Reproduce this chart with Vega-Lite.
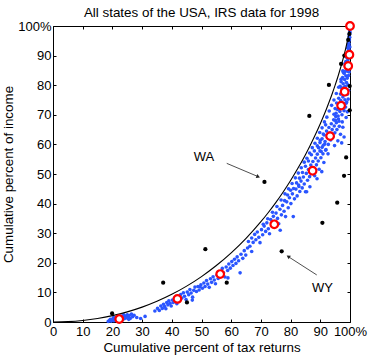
{
  "$schema": "https://vega.github.io/schema/vega-lite/v6.json",
  "autosize": {"type": "none"},
  "padding": {"left": 53, "top": 26, "right": 20, "bottom": 33},
  "width": 297,
  "height": 296,
  "background": "white",
  "title": {"text": "All states of the USA, IRS data for 1998", "font": "Liberation Sans", "fontSize": 13.4, "fontWeight": "normal", "color": "black", "anchor": "middle", "frame": "group", "offset": 0, "dy": 2},
  "config": {
    "view": {"stroke": "black", "strokeWidth": 1},
    "axis": {"labelFont": "Liberation Sans", "titleFont": "Liberation Sans", "labelColor": "black", "titleColor": "black", "titleFontWeight": "normal", "labelFontSize": 13, "titleFontSize": 13.4, "tickColor": "black", "tickSize": -3, "domain": false, "grid": false, "labelFlush": false, "labelOverlap": false}
  },
  "datasets": {
    "curve": [
      {"x":0,"y":0},{"x":5,"y":0.13},{"x":10,"y":0.52},{"x":15,"y":1.19},{"x":20,"y":2.15},{"x":25,"y":3.42},{"x":30,"y":5.03},{"x":35,"y":7.0},{"x":40,"y":9.35},{"x":45,"y":12.12},{"x":50,"y":15.34},{"x":55,"y":19.07},{"x":60,"y":23.35},{"x":65,"y":28.26},{"x":70,"y":33.88},{"x":72.5,"y":37.0},{"x":75,"y":40.34},{"x":77.5,"y":43.94},{"x":80,"y":47.81},{"x":82.5,"y":52.0},{"x":85,"y":56.54},{"x":86.5,"y":59.47},{"x":88,"y":62.56},{"x":90,"y":66.97},{"x":91,"y":69.33},{"x":92,"y":71.79},{"x":93,"y":74.39},{"x":94,"y":77.12},{"x":95,"y":80.02},{"x":96,"y":83.12},{"x":97,"y":86.48},{"x":98,"y":90.18},{"x":98.5,"y":92.2},{"x":99,"y":94.39},{"x":99.5,"y":96.85},{"x":99.75,"y":98.25},{"x":99.9,"y":99.21},{"x":100,"y":100}
    ],
    "blue": [
      {"x":18.6,"y":0.2},{"x":19.0,"y":0.5},{"x":19.3,"y":0.9},{"x":19.6,"y":0.3},{"x":20.0,"y":0.7},{"x":20.2,"y":1.1},{"x":20.5,"y":0.4},{"x":20.8,"y":0.9},{"x":21.0,"y":1.4},{"x":21.3,"y":0.6},{"x":21.6,"y":1.2},{"x":21.9,"y":0.3},{"x":22.1,"y":1.6},{"x":22.5,"y":0.8},{"x":22.8,"y":1.3},{"x":23.0,"y":1.9},{"x":23.3,"y":0.7},{"x":23.6,"y":1.5},{"x":24.0,"y":1.1},{"x":24.3,"y":2.0},{"x":24.6,"y":1.4},{"x":25.0,"y":2.4},{"x":25.3,"y":1.6},{"x":25.7,"y":2.2},{"x":26.0,"y":1.2},{"x":26.4,"y":2.7},{"x":26.8,"y":1.8},{"x":27.3,"y":2.3},{"x":28.2,"y":1.5},{"x":29.5,"y":1.2},{"x":31.0,"y":1.9},{"x":20.4,"y":1.5},{"x":23.8,"y":2.4},{"x":25.5,"y":0.9},
      {"x":34.3,"y":3.7},{"x":35.2,"y":4.6},{"x":35.8,"y":3.9},{"x":36.3,"y":5.4},{"x":36.8,"y":4.6},{"x":37.2,"y":6.0},{"x":37.6,"y":5.2},{"x":38.0,"y":4.5},{"x":38.3,"y":6.6},{"x":38.7,"y":5.8},{"x":39.0,"y":7.2},{"x":39.4,"y":6.3},{"x":39.8,"y":5.4},{"x":40.2,"y":7.4},{"x":40.5,"y":6.6},{"x":40.9,"y":8.1},{"x":41.3,"y":7.0},{"x":41.7,"y":6.2},{"x":42.2,"y":8.6},{"x":42.6,"y":7.5},{"x":43.0,"y":9.3},{"x":43.4,"y":8.1},{"x":43.9,"y":9.9},{"x":44.3,"y":8.7},{"x":44.8,"y":7.6},{"x":45.2,"y":10.1},{"x":45.7,"y":9.2},{"x":46.1,"y":11.0},{"x":46.5,"y":9.8},{"x":47.0,"y":8.4},{"x":47.4,"y":10.7},{"x":47.8,"y":11.8},{"x":48.3,"y":10.3},{"x":48.8,"y":12.0},{"x":49.5,"y":11.9},{"x":46.9,"y":7.4},
      {"x":49.2,"y":10.8},{"x":49.8,"y":12.6},{"x":50.3,"y":11.4},{"x":50.8,"y":13.2},{"x":51.2,"y":12.0},{"x":51.7,"y":14.0},{"x":52.1,"y":12.8},{"x":52.6,"y":11.7},{"x":53.0,"y":14.6},{"x":53.4,"y":13.4},{"x":53.9,"y":15.3},{"x":54.3,"y":14.2},{"x":54.7,"y":12.9},{"x":55.2,"y":15.9},{"x":55.6,"y":14.7},{"x":56.0,"y":17.0},{"x":56.5,"y":15.4},{"x":57.0,"y":18.1},{"x":57.4,"y":16.6},{"x":57.9,"y":15.2},{"x":58.3,"y":18.6},{"x":58.8,"y":17.4},{"x":59.2,"y":19.6},{"x":59.7,"y":18.2},{"x":60.2,"y":20.4},{"x":60.6,"y":19.1},{"x":61.1,"y":21.2},{"x":61.6,"y":19.8},{"x":62.0,"y":22.0},{"x":62.5,"y":20.7},{"x":63.0,"y":16.6},{"x":63.3,"y":22.9},{"x":63.9,"y":21.5},{"x":64.4,"y":24.1},{"x":64.9,"y":22.6},{"x":65.5,"y":25.0},{"x":66.9,"y":23.8},{"x":58.9,"y":14.9},
      {"x":65.8,"y":27.2},{"x":66.3,"y":25.6},{"x":66.9,"y":28.4},{"x":67.4,"y":26.9},{"x":67.9,"y":29.6},{"x":68.3,"y":27.8},{"x":68.8,"y":30.4},{"x":69.3,"y":28.6},{"x":69.7,"y":26.8},{"x":70.2,"y":31.2},{"x":70.6,"y":29.5},{"x":71.1,"y":32.4},{"x":71.6,"y":30.6},{"x":72.0,"y":33.5},{"x":72.5,"y":31.5},{"x":72.9,"y":29.8},{"x":73.3,"y":34.6},{"x":73.8,"y":32.7},{"x":74.2,"y":35.7},{"x":74.7,"y":34.0},{"x":75.1,"y":36.8},{"x":75.6,"y":35.0},{"x":76.0,"y":33.2},{"x":76.4,"y":38.1},{"x":76.9,"y":36.2},{"x":77.3,"y":39.4},{"x":77.8,"y":37.4},{"x":78.3,"y":35.6},{"x":78.7,"y":40.6},{"x":79.2,"y":38.6},{"x":79.6,"y":42.0},{"x":80.1,"y":40.0},{"x":80.9,"y":35.6},{"x":80.6,"y":43.3},{"x":81.3,"y":41.6},{"x":76.5,"y":31.0},
      {"x":81.8,"y":44.9},{"x":82.2,"y":42.6},{"x":82.7,"y":46.3},{"x":83.1,"y":44.1},{"x":83.5,"y":47.6},{"x":83.9,"y":45.3},{"x":84.3,"y":49.0},{"x":84.6,"y":46.6},{"x":85.0,"y":44.0},{"x":85.3,"y":50.2},{"x":85.7,"y":47.9},{"x":86.0,"y":51.5},{"x":86.4,"y":49.1},{"x":86.5,"y":45.7},{"x":86.8,"y":53.0},{"x":87.1,"y":50.3},{"x":87.5,"y":54.2},{"x":87.8,"y":52.0},{"x":88.1,"y":49.4},{"x":88.4,"y":55.4},{"x":88.7,"y":53.1},{"x":89.0,"y":56.7},{"x":89.3,"y":54.4},{"x":89.6,"y":51.6},{"x":89.9,"y":57.8},{"x":90.2,"y":55.5},{"x":90.5,"y":50.8},{"x":90.6,"y":59.0},{"x":90.9,"y":56.8},{"x":91.2,"y":53.9},{"x":91.5,"y":60.1},{"x":91.8,"y":58.0},{"x":85.4,"y":44.0},{"x":88.9,"y":48.4},
      {"x":89.4,"y":58.9},{"x":89.9,"y":60.6},{"x":90.3,"y":57.6},{"x":90.6,"y":61.9},{"x":91.0,"y":59.7},{"x":91.3,"y":63.2},{"x":91.6,"y":61.0},{"x":91.9,"y":58.3},{"x":92.1,"y":64.5},{"x":92.4,"y":62.3},{"x":92.7,"y":60.0},{"x":92.9,"y":65.7},{"x":93.2,"y":63.8},{"x":93.5,"y":61.5},{"x":93.7,"y":67.0},{"x":94.0,"y":65.0},{"x":94.2,"y":62.6},{"x":94.5,"y":68.3},{"x":94.7,"y":66.2},{"x":94.9,"y":63.9},{"x":95.2,"y":69.4},{"x":95.4,"y":67.3},{"x":95.6,"y":65.0},{"x":95.9,"y":61.2},{"x":96.1,"y":68.6},{"x":96.4,"y":66.1},{"x":96.8,"y":63.4},{"x":97.2,"y":60.5},{"x":97.6,"y":65.8},{"x":98.0,"y":62.5},{"x":92.6,"y":56.8},{"x":94.8,"y":59.6},{"x":91.8,"y":66.6},
      {"x":94.6,"y":70.2},{"x":95.0,"y":72.1},{"x":95.3,"y":70.5},{"x":95.5,"y":74.0},{"x":95.8,"y":71.8},{"x":96.0,"y":69.6},{"x":96.2,"y":75.6},{"x":96.4,"y":73.4},{"x":96.6,"y":71.1},{"x":96.8,"y":77.0},{"x":96.9,"y":74.8},{"x":97.1,"y":72.5},{"x":97.3,"y":70.0},{"x":97.5,"y":78.2},{"x":97.6,"y":76.0},{"x":97.8,"y":73.8},{"x":98.0,"y":71.4},{"x":98.1,"y":79.4},{"x":98.3,"y":75.1},{"x":98.5,"y":72.6},{"x":98.7,"y":69.1},{"x":98.9,"y":74.3},{"x":99.1,"y":71.0},{"x":97.4,"y":67.6},{"x":96.3,"y":67.8},{"x":95.1,"y":68.1},
      {"x":96.7,"y":79.6},{"x":97.0,"y":81.2},{"x":97.3,"y":79.0},{"x":97.5,"y":82.6},{"x":97.7,"y":80.5},{"x":97.9,"y":78.1},{"x":98.0,"y":84.0},{"x":98.2,"y":81.9},{"x":98.4,"y":79.6},{"x":98.5,"y":76.9},{"x":98.6,"y":83.2},{"x":98.8,"y":80.9},{"x":98.9,"y":78.4},{"x":99.0,"y":85.0},{"x":99.1,"y":82.4},{"x":99.2,"y":77.0},{"x":99.3,"y":80.1},{"x":99.4,"y":75.3},{"x":98.7,"y":73.9},{"x":99.5,"y":78.3},{"x":97.6,"y":84.9},
      {"x":98.4,"y":86.5},{"x":98.6,"y":88.0},{"x":98.8,"y":86.1},{"x":98.9,"y":89.4},{"x":99.0,"y":87.5},{"x":99.1,"y":84.7},{"x":99.2,"y":90.6},{"x":99.3,"y":88.6},{"x":99.4,"y":85.9},{"x":99.5,"y":83.3},{"x":99.5,"y":91.7},{"x":99.6,"y":89.6},{"x":99.7,"y":87.1},{"x":99.7,"y":84.5},{"x":98.2,"y":84.6},{"x":99.8,"y":92.8},
      {"x":99.3,"y":92.5},{"x":99.4,"y":94.0},{"x":99.5,"y":93.2},{"x":99.6,"y":95.1},{"x":99.7,"y":94.0},{"x":99.7,"y":96.4},{"x":99.8,"y":95.3},{"x":99.8,"y":97.2},{"x":99.9,"y":96.2},{"x":99.9,"y":98.3},{"x":99.9,"y":93.0},{"x":99.6,"y":91.0},{"x":100,"y":97.8},{"x":99.95,"y":99.0},{"x":99.85,"y":91.6},
      {"x":70.8,"y":33.0},{"x":72.3,"y":34.9},{"x":73.9,"y":37.1},{"x":75.4,"y":39.0},{"x":76.8,"y":41.2},{"x":78.1,"y":43.3},{"x":79.3,"y":45.0},{"x":80.5,"y":46.8},{"x":81.6,"y":48.7},{"x":82.6,"y":50.3},{"x":83.6,"y":52.1},{"x":84.6,"y":54.0},{"x":85.5,"y":55.3},{"x":86.4,"y":57.1},{"x":87.3,"y":58.9},{"x":88.2,"y":60.4},{"x":89.0,"y":62.1},{"x":89.8,"y":64.0},{"x":90.6,"y":65.6},{"x":91.4,"y":67.6},{"x":92.2,"y":69.2},{"x":93.0,"y":71.3},{"x":93.8,"y":73.2},{"x":94.6,"y":75.0},{"x":95.4,"y":77.2},{"x":96.2,"y":79.3},{"x":97.0,"y":82.0},{"x":97.7,"y":84.5},{"x":98.3,"y":87.3},{"x":98.9,"y":90.0},{"x":99.3,"y":92.7},
      {"x":81.0,"y":45.1},{"x":82.0,"y":47.0},{"x":83.0,"y":48.6},{"x":84.0,"y":50.5},{"x":85.0,"y":52.6},{"x":86.0,"y":54.4},{"x":87.0,"y":56.5},{"x":88.0,"y":57.8},{"x":89.0,"y":59.5},{"x":90.0,"y":61.4},{"x":91.0,"y":63.5},{"x":78.0,"y":41.0},{"x":79.0,"y":42.9},{"x":80.0,"y":44.5},{"x":82.8,"y":45.8}
    ],
    "black": [
      {"x":99.8,"y":97.3},{"x":99.4,"y":95.3},{"x":98.1,"y":90.0},{"x":97.0,"y":87.2},{"x":92.9,"y":80.1},{"x":99.9,"y":79.7},{"x":86.3,"y":69.6},{"x":99.9,"y":71.5},{"x":98.7,"y":55.6},{"x":98.0,"y":49.4},{"x":95.7,"y":40.3},{"x":90.7,"y":33.5},{"x":71.2,"y":47.3},{"x":77.0,"y":23.9},{"x":51.3,"y":24.6},{"x":37.1,"y":13.3},{"x":58.5,"y":13.3},{"x":45.1,"y":6.6},{"x":19.9,"y":2.9}
    ],
    "red": [
      {"x":22.3,"y":1.0},{"x":41.9,"y":7.8},{"x":56.3,"y":16.2},{"x":74.5,"y":33.0},{"x":87.4,"y":51.1},{"x":93.3,"y":62.8},{"x":97.0,"y":73.1},{"x":98.2,"y":77.8},{"x":99.4,"y":86.5},{"x":99.8,"y":90.3},{"x":100,"y":100}
    ],
    "notes": [
      {"state":"WA","tx":50.8,"ty":55.6,"x":58.5,"y":53.6,"x2":69.1,"y2":49.1},
      {"state":"WY","tx":90.7,"ty":11.4,"x":88.8,"y":15.9,"x2":79.2,"y2":22.1}
    ]
  },
  "resolve": {"axis": {"x": "independent", "y": "independent"}},
  "layer": [
    {
      "data": {"name": "blue"},
      "mark": {"type": "point", "shape": "circle", "filled": true, "color": "#2a55ff", "size": 13, "opacity": 1},
      "encoding": {
        "x": {"field": "x", "type": "quantitative", "scale": {"domain": [0, 100], "nice": false}, "axis": {"orient": "top", "values": [0,10,20,30,40,50,60,70,80,90,100], "labels": false, "title": null}},
        "y": {"field": "y", "type": "quantitative", "scale": {"domain": [0, 100], "nice": false}, "axis": {"orient": "right", "values": [0,10,20,30,40,50,60,70,80,90,100], "labels": false, "title": null}}
      }
    },
    {
      "data": {"name": "curve"},
      "mark": {"type": "line", "color": "black", "strokeWidth": 1.1, "interpolate": "monotone"},
      "encoding": {
        "x": {"field": "x", "type": "quantitative", "scale": {"domain": [0, 100], "nice": false}, "axis": {"orient": "bottom", "values": [0,10,20,30,40,50,60,70,80,90,100], "labelExpr": "datum.value == 100 ? '100%' : datum.label", "title": "Cumulative percent of tax returns", "labelPadding": 6, "titlePadding": 2}},
        "y": {"field": "y", "type": "quantitative", "scale": {"domain": [0, 100], "nice": false}, "axis": {"orient": "left", "values": [0,10,20,30,40,50,60,70,80,90,100], "labelExpr": "datum.value == 100 ? '100%' : datum.label", "title": "Cumulative percent of income", "labelPadding": 5, "titlePadding": 2}}
      }
    },
    {
      "data": {"name": "black"},
      "mark": {"type": "point", "shape": "circle", "filled": true, "color": "black", "size": 18, "opacity": 1},
      "encoding": {
        "x": {"field": "x", "type": "quantitative", "scale": {"domain": [0, 100], "nice": false}, "axis": null},
        "y": {"field": "y", "type": "quantitative", "scale": {"domain": [0, 100], "nice": false}, "axis": null}
      }
    },
    {
      "data": {"name": "red"},
      "mark": {"type": "point", "shape": "circle", "filled": false, "fill": "white", "fillOpacity": 1, "stroke": "#ff0000", "strokeWidth": 2.2, "size": 58, "opacity": 1},
      "encoding": {
        "x": {"field": "x", "type": "quantitative", "scale": {"domain": [0, 100], "nice": false}, "axis": null},
        "y": {"field": "y", "type": "quantitative", "scale": {"domain": [0, 100], "nice": false}, "axis": null}
      }
    },
    {
      "data": {"name": "notes"},
      "mark": {"type": "rule", "color": "#222222", "strokeWidth": 0.8},
      "encoding": {
        "x": {"field": "x", "type": "quantitative", "scale": {"domain": [0, 100], "nice": false}, "axis": null},
        "y": {"field": "y", "type": "quantitative", "scale": {"domain": [0, 100], "nice": false}, "axis": null},
        "x2": {"field": "x2"},
        "y2": {"field": "y2"}
      }
    },
    {
      "data": {"name": "notes"},
      "transform": [{"filter": "datum.state == 'WA'"}],
      "mark": {"type": "point", "shape": "triangle-right", "filled": true, "color": "#222222", "size": 18, "angle": 23, "opacity": 1},
      "encoding": {
        "x": {"field": "x2", "type": "quantitative", "scale": {"domain": [0, 100], "nice": false}, "axis": null},
        "y": {"field": "y2", "type": "quantitative", "scale": {"domain": [0, 100], "nice": false}, "axis": null}
      }
    },
    {
      "data": {"name": "notes"},
      "transform": [{"filter": "datum.state == 'WY'"}],
      "mark": {"type": "point", "shape": "triangle-right", "filled": true, "color": "#222222", "size": 18, "angle": 213, "opacity": 1},
      "encoding": {
        "x": {"field": "x2", "type": "quantitative", "scale": {"domain": [0, 100], "nice": false}, "axis": null},
        "y": {"field": "y2", "type": "quantitative", "scale": {"domain": [0, 100], "nice": false}, "axis": null}
      }
    },
    {
      "data": {"name": "notes"},
      "mark": {"type": "text", "font": "Liberation Sans", "fontSize": 13, "color": "black", "align": "center", "baseline": "middle"},
      "encoding": {
        "x": {"field": "tx", "type": "quantitative", "scale": {"domain": [0, 100], "nice": false}, "axis": null},
        "y": {"field": "ty", "type": "quantitative", "scale": {"domain": [0, 100], "nice": false}, "axis": null},
        "text": {"field": "state"}
      }
    }
  ]
}
